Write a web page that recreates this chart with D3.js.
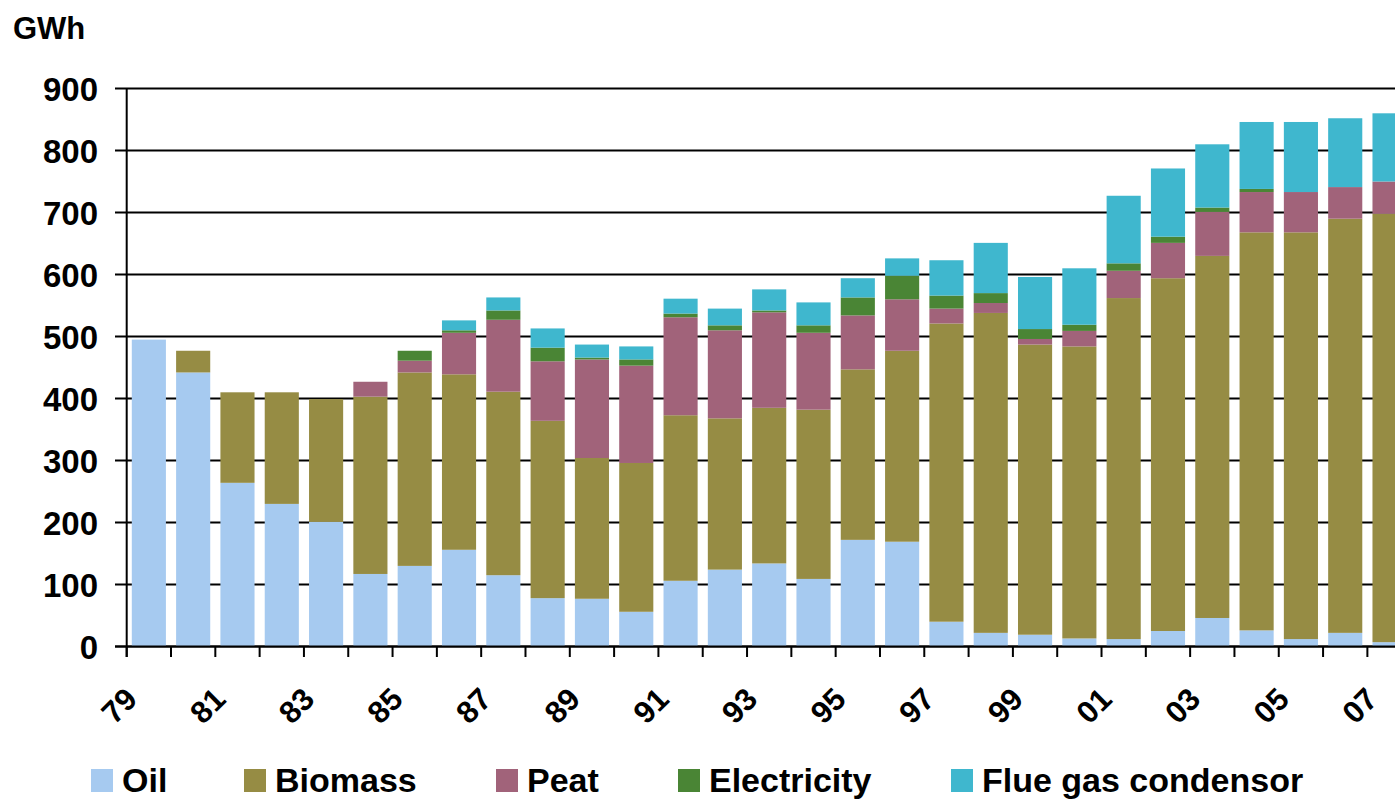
<!DOCTYPE html>
<html>
<head>
<meta charset="utf-8">
<script src="https://cdn.jsdelivr.net/npm/d3@7"></script>
<style>
  html, body { margin: 0; padding: 0; background: #fff; overflow: hidden; }
  svg { display: block; }
  text { font-family: "Liberation Sans", Arial, sans-serif; font-weight: bold; fill: #000; }
</style>
</head>
<body>
<svg id="chart" width="1395" height="800"></svg>
<script>
// ---- Data ----
const years = ["79","80","81","82","83","84","85","86","87","88","89","90","91","92","93","94","95","96","97","98","99","00","01","02","03","04","05","06","07"];
const seriesNames = ["Oil","Biomass","Peat","Electricity","Flue gas condensor"];
const oil         = [495,442,264,230,201,117,130,156,115, 78, 77, 56,106,124,134,109,172,169, 40, 22, 19, 13, 12, 25, 46, 26, 12, 22,  7];
const biomass     = [  0, 35,146,180,198,286,312,283,296,286,227,240,267,244,251,273,275,308,481,516,468,471,550,569,584,642,656,668,691];
const peat        = [  0,  0,  0,  0,  0, 24, 19, 67,116, 96,159,157,158,142,154,124, 87, 83, 24, 16,  9, 25, 44, 57, 71, 65, 65, 51, 52];
const electricity = [  0,  0,  0,  0,  0,  0, 16,  4, 15, 22,  3, 10,  6,  8,  3, 12, 29, 38, 21, 16, 16, 10, 12, 10,  7,  5,  0,  0,  0];
const flueGas     = [  0,  0,  0,  0,  0,  0,  0, 16, 21, 31, 21, 21, 24, 27, 34, 37, 31, 28, 57, 81, 84, 91,109,110,102,108,113,111,110];
const yTicks = [0,100,200,300,400,500,600,700,800,900];
const colors = ["#A6CAF0","#968C44","#A1637A","#4A8535","#3FB7CE"];

// ---- Build table ----
const seriesArrays = [oil, biomass, peat, electricity, flueGas];
const table = years.map((y, i) => {
  const row = { year: y };
  seriesNames.forEach((s, k) => row[s] = seriesArrays[k][i]);
  return row;
});

const svg = d3.select("#chart");
const left = 126.7, step = 44.31;
const x = d3.scaleBand().domain(years)
  .range([left, left + step * years.length])
  .paddingInner(0.23).paddingOuter(0.115);
const y = d3.scaleLinear().domain([0, 900]).range([646.5, 88.5]);

// gridlines
svg.append("g").selectAll("line").data(yTicks).join("line")
  .attr("x1", 115).attr("x2", 1395)
  .attr("y1", d => y(d)).attr("y2", d => y(d))
  .attr("stroke", "#000").attr("stroke-width", 2.2);

// y tick labels
svg.append("g").selectAll("text").data(yTicks).join("text")
  .attr("x", 98).attr("y", d => y(d) + 12)
  .attr("text-anchor", "end")
  .style("font-size", "33px")
  .text(d => d);

// bars
const stack = d3.stack().keys(seriesNames)(table);
svg.append("g").selectAll("g").data(stack).join("g")
  .attr("fill", (d, i) => colors[i])
  .selectAll("rect").data(d => d).join("rect")
  .attr("x", d => x(d.data.year))
  .attr("width", x.bandwidth())
  .attr("y", d => y(d[1]))
  .attr("height", d => Math.max(0, y(d[0]) - y(d[1])));

// axes lines
svg.append("line").attr("x1", left).attr("x2", left).attr("y1", y(900)).attr("y2", 657)
  .attr("stroke", "#000").attr("stroke-width", 2);
svg.append("line").attr("x1", 115).attr("x2", 1395).attr("y1", y(0)).attr("y2", y(0))
  .attr("stroke", "#000").attr("stroke-width", 2.2);
// x ticks at band boundaries
svg.append("g").selectAll("line").data(years).join("line")
  .attr("x1", d => x(d) - x.step() * 0.115).attr("x2", d => x(d) - x.step() * 0.115)
  .attr("y1", y(0)).attr("y2", 657)
  .attr("stroke", "#000").attr("stroke-width", 2);

// x labels (every other)
svg.append("g").selectAll("text").data(years.filter((d, i) => i % 2 === 0)).join("text")
  .attr("transform", d => `translate(${x(d) + x.bandwidth() / 2 - 10},701) rotate(-45)`)
  .attr("text-anchor", "end")
  .style("font-size", "31px")
  .text(d => d);

// axis unit
svg.append("text").attr("x", 13).attr("y", 39).style("font-size", "31px").text("GWh");

// legend
const legendX = [91, 244, 496, 678, 951];
const lg = svg.append("g").selectAll("g").data(seriesNames).join("g")
  .attr("transform", (d, i) => `translate(${legendX[i]},0)`);
lg.append("rect").attr("x", 0).attr("y", 769).attr("width", 22).attr("height", 23)
  .attr("fill", (d, i) => colors[i]);
lg.append("text").attr("x", 31).attr("y", 792).style("font-size", "34px").text(d => d);
</script>
</body>
</html>
